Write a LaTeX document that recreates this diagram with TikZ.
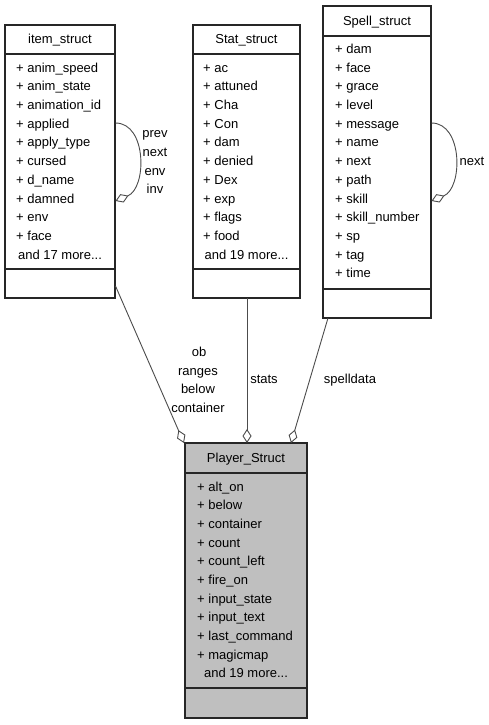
\documentclass[tikz,border=0pt]{standalone}
\usepackage{fontspec}
\setmainfont{Liberation Sans}
\usetikzlibrary{arrows.meta}
\begin{document}
\begin{tikzpicture}[x=1pt,y=-1pt,
  box/.style={draw=black!85, line width=1.2pt, anchor=north west, inner sep=0pt, outer sep=0pt},
  sep/.style={draw=black!85, line width=1.2pt},
  fld/.style={anchor=mid west, inner sep=0pt, font=\fontsize{13}{15}\selectfont},
  ctr/.style={anchor=mid, inner sep=0pt, font=\fontsize{13}{15}\selectfont},
  rel/.style={draw=black!70, line width=0.9pt},
  agg/.style={rel, {Diamond[open,length=14pt,width=9pt,line width=0.9pt]}-},
  aggend/.style={rel, -{Diamond[open,length=14pt,width=9pt,line width=0.9pt]}}
]
\useasboundingbox[fill=white] (0,0) rectangle (489,725);

% ---------- item_struct ----------
\node[box, minimum width=110pt, minimum height=273pt] (item) at (5,25) {};
\draw[sep] (5,54) -- (115,54);
\draw[sep] (5,269) -- (115,269);
\node[ctr] (itemT) at (60,41) {item\_struct};
\foreach [count=\i] \t in {anim\_speed, anim\_state, animation\_id, applied, apply\_type, cursed, d\_name, damned, env, face}
  \node[fld] (itemf\i) at (16,{69.5+18.7*(\i-1)}) {+ \t};
\node[ctr] (itemMore) at (60,256.5) {and 17 more...};

% ---------- Stat_struct ----------
\node[box, minimum width=107pt, minimum height=273pt] (stat) at (193,25) {};
\draw[sep] (193,54) -- (300,54);
\draw[sep] (193,269) -- (300,269);
\node[ctr] (statT) at (246.5,41) {Stat\_struct};
\foreach [count=\i] \t in {ac, attuned, Cha, Con, dam, denied, Dex, exp, flags, food}
  \node[fld] (statf\i) at (203,{69.5+18.7*(\i-1)}) {+ \t};
\node[ctr] (statMore) at (246.5,256.5) {and 19 more...};

% ---------- Spell_struct ----------
\node[box, minimum width=108pt, minimum height=312pt] (spell) at (323,6) {};
\draw[sep] (323,36) -- (431,36);
\draw[sep] (323,289) -- (431,289);
\node[ctr] (spellT) at (377,22.5) {Spell\_struct};
\foreach [count=\i] \t in {dam, face, grace, level, message, name, next, path, skill, skill\_number, sp, tag, time}
  \node[fld] (spellf\i) at (335,{51+18.67*(\i-1)}) {+ \t};

% ---------- Player_Struct ----------
\node[box, fill=black!25, minimum width=122pt, minimum height=275pt] (player) at (185,443) {};
\draw[sep] (185,473) -- (307,473);
\draw[sep] (185,688) -- (307,688);
\node[ctr] (playerT) at (246,459.5) {Player\_Struct};
\foreach [count=\i] \t in {alt\_on, below, container, count, count\_left, fire\_on, input\_state, input\_text, last\_command, magicmap}
  \node[fld] (playerf\i) at (197,{488.5+18.67*(\i-1)}) {+ \t};
\node[ctr] (playerMore) at (246,674.5) {and 19 more...};

% ---------- connector end points ----------
\coordinate (itemOut) at (115.5,286);
\coordinate (statOut) at (247,298);
\coordinate (spellOut) at (328,318);
\coordinate (plA) at (184,443);
\coordinate (plB) at (247,443);
\coordinate (plC) at (291,443);
\coordinate (itemLoopA) at (115.5,123);
\coordinate (itemLoopB) at (115.5,201);
\coordinate (spellLoopA) at (431.5,123);
\coordinate (spellLoopB) at (431.5,201);

% ---------- connectors ----------
\draw[agg] (plA) -- (itemOut);
\draw[agg] (plB) -- (statOut);
\draw[agg] (plC) -- (spellOut);
\draw[aggend] (itemLoopA) .. controls (147,123) and (147,188) .. (itemLoopB);
\draw[aggend] (spellLoopA) .. controls (463,123) and (463,188) .. (spellLoopB);

% ---------- connector labels ----------
\node[ctr] (lPrev) at (155,134.5) {prev};
\node[ctr] (lNext) at (155,153.5) {next};
\node[ctr] (lEnv) at (155,172.5) {env};
\node[ctr] (lInv) at (155,190.5) {inv};
\node[ctr] (lSpNext) at (472,162.5) {next};
\node[ctr] (lOb) at (199,353.5) {ob};
\node[ctr] (lRanges) at (198,372.5) {ranges};
\node[ctr] (lBelow) at (198,390.5) {below};
\node[ctr] (lCont) at (198,409.5) {container};
\node[ctr] (lStats) at (264,380.5) {stats};
\node[ctr] (lSpell) at (350,380.5) {spelldata};
\end{tikzpicture}
\end{document}
